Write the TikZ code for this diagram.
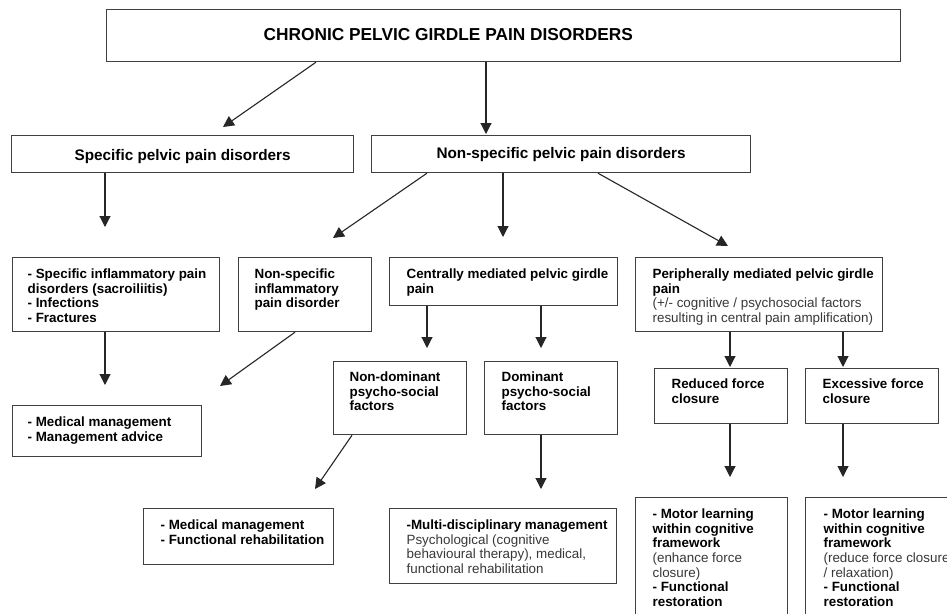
\documentclass[tikz,border=0pt]{standalone}
\usepackage{fontspec}
\setmainfont{Liberation Sans}
\usetikzlibrary{arrows.meta}

% box contents: width, height, left padding, first-baseline depth, text
\newcommand{\cellbox}[5]{\parbox[c][#2][t]{#1}{\raggedright\leftskip=#3\relax\bodyfont\bfseries\rule{0pt}{#4}#5\par}}
% centred variant: width, height, first-baseline depth, text
\newcommand{\cellboxc}[4]{\parbox[c][#2][t]{#1}{\centering\rule{0pt}{#3}#4\par}}
\newcommand{\bodyfont}{\fontsize{13.4}{14.6}\selectfont}
\newcommand{\plain}[1]{{\mdseries\color{black!78}#1}}

\begin{document}
\begin{tikzpicture}[x=1pt,y=-1pt,
  box/.style={draw=black!75, line width=1.2pt, inner sep=0pt, anchor=north west, fill=white},
  arr/.style={draw=black!85, line width=1.1pt, -{Triangle[length=11pt,width=11pt]}}]

\fill[white] (0,0) rectangle (947,613);
\useasboundingbox (0,0) rectangle (947,613);

% level 1
\node[box] (top) at (106,9)
  {\cellbox{794pt}{52pt}{157pt}{31pt}{\fontsize{17.3}{20}\selectfont CHRONIC PELVIC GIRDLE PAIN DISORDERS}};

% level 2
\node[box] (spec) at (11,135)
  {\cellboxc{342pt}{37pt}{25pt}{\fontsize{15.3}{17}\selectfont\bfseries Specific pelvic pain disorders}};
\node[box] (nonspec) at (371,135)
  {\cellboxc{379pt}{37pt}{23pt}{\fontsize{15.3}{17}\selectfont\bfseries Non-specific pelvic pain disorders}};

% level 3
\node[box] (specinfl) at (12,257)
  {\cellbox{207pt}{74pt}{15pt}{21pt}{- Specific inflammatory pain\\disorders (sacroiliitis)\\- Infections\\- Fractures}};
\node[box] (nsinfl) at (238,257)
  {\cellbox{133pt}{74pt}{16pt}{21pt}{Non-specific\\inflammatory\\pain disorder}};
\node[box] (central) at (389,257)
  {\cellbox{228pt}{48pt}{17pt}{21pt}{Centrally mediated pelvic girdle\\pain}};
\node[box] (periph) at (635,257)
  {\cellbox{247pt}{74pt}{17pt}{21pt}{Peripherally mediated pelvic girdle\\pain\\\plain{(+/- cognitive / psychosocial factors\\resulting in central pain amplification)}}};

% level 4
\node[box] (medadv) at (12,405)
  {\cellbox{189pt}{51pt}{15pt}{21pt}{- Medical management\\- Management advice}};
\node[box] (nondom) at (333,361)
  {\cellbox{133pt}{73pt}{16pt}{20pt}{Non-dominant\\psycho-social\\factors}};
\node[box] (dom) at (484,361)
  {\cellbox{133pt}{73pt}{17pt}{20pt}{Dominant\\psycho-social\\factors}};
\node[box] (reduced) at (654,368)
  {\cellbox{133pt}{55pt}{17pt}{20pt}{Reduced force\\closure}};
\node[box] (excess) at (805,368)
  {\cellbox{133pt}{55pt}{17pt}{20pt}{Excessive force\\closure}};

% level 5
\node[box] (medfunc) at (143,508)
  {\cellbox{190pt}{56pt}{17pt}{21pt}{- Medical management\\- Functional rehabilitation}};
\node[box] (multi) at (389,508)
  {\cellbox{227pt}{75pt}{17pt}{21pt}{-Multi-disciplinary management\\\plain{Psychological (cognitive\\behavioural therapy), medical,\\functional rehabilitation}}};
\node[box] (motor1) at (635,497)
  {\cellbox{152pt}{125pt}{17pt}{21pt}{- Motor learning\\within cognitive\\framework\\\plain{(enhance force\\closure)}\\- Functional\\restoration}};
\node[box] (motor2) at (805,497)
  {\cellbox{160pt}{125pt}{18pt}{21pt}{- Motor learning\\within cognitive\\framework\\\plain{(reduce force closure\\/ relaxation)}\\- Functional\\restoration}};

% arrow tips
\coordinate (t1) at (223,127);
\coordinate (t2) at (486,134);
\coordinate (t3) at (105,227);
\coordinate (t4) at (333,238);
\coordinate (t5) at (503,237);
\coordinate (t6) at (728,246);
\coordinate (t7) at (105,385);
\coordinate (t8) at (220,386);
\coordinate (t9) at (427,348);
\coordinate (t10) at (541,348);
\coordinate (t11) at (730,367);
\coordinate (t12) at (843,367);
\coordinate (t13) at (315,489);
\coordinate (t14) at (541,489);
\coordinate (t15) at (730,477);
\coordinate (t16) at (843,477);

% connectors
\draw[arr] ([xshift=210]top.south west) -- (t1);
\draw[arr] (top.south -| t2) -- (t2);
\draw[arr] (spec.south -| t3) -- (t3);
\draw[arr] ([xshift=56]nonspec.south west) -- (t4);
\draw[arr] (nonspec.south -| t5) -- (t5);
\draw[arr] ([xshift=227]nonspec.south west) -- (t6);
\draw[arr] (specinfl.south -| t7) -- (t7);
\draw[arr] ([xshift=57]nsinfl.south west) -- (t8);
\draw[arr] (central.south -| t9) -- (t9);
\draw[arr] (central.south -| t10) -- (t10);
\draw[arr] (periph.south -| t11) -- (t11);
\draw[arr] (periph.south -| t12) -- (t12);
\draw[arr] ([xshift=19]nondom.south west) -- (t13);
\draw[arr] (dom.south -| t14) -- (t14);
\draw[arr] (reduced.south -| t15) -- (t15);
\draw[arr] (excess.south -| t16) -- (t16);
\end{tikzpicture}
\end{document}
